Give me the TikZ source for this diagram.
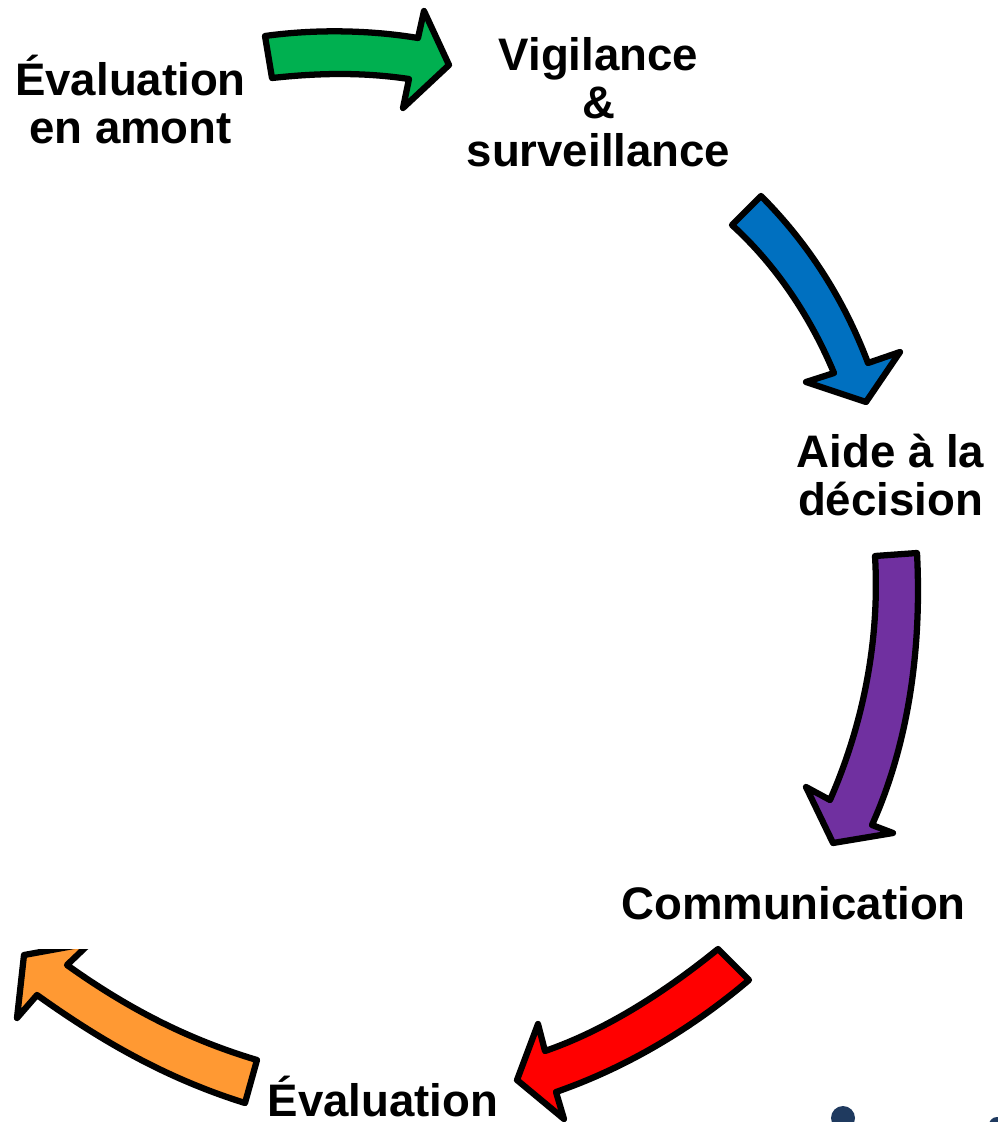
\documentclass[tikz,border=0pt]{standalone}
\usepackage{fontspec}
\setmainfont{Liberation Sans}
\tikzset{
  px/.style={x=0.75pt,y=-0.75pt},
  blockarrow/.style={draw=black,line width=4.7pt,line join=round},
  label/.style={font=\fontsize{34.2}{36}\selectfont\bfseries,align=center,inner sep=0pt,text=black},
  dot/.style={fill=dotblue,draw=none}
}
\definecolor{agreen}{HTML}{00B050}
\definecolor{ablue}{HTML}{0070C0}
\definecolor{apurple}{HTML}{7030A0}
\definecolor{ared}{HTML}{FF0000}
\definecolor{aorange}{HTML}{FF9933}
\definecolor{dotblue}{HTML}{1F3A5F}
\begin{document}
\begin{tikzpicture}[px]
\useasboundingbox (0,0) rectangle (998,1122);
\clip (0,0) rectangle (998,1122);
% green
\draw[blockarrow,fill=agreen] (265,36) .. controls (315,29) and (370,30) .. (418,38)
  -- (424,11) -- (449,65) -- (403,108) -- (409,79)
  .. controls (362,72) and (318,73) .. (272,78) -- cycle;
% blue
\draw[blockarrow,fill=ablue] (761,196) .. controls (810,245) and (845,302) .. (868,363)
  -- (900,352) -- (866,402) -- (806,382) -- (834,373)
  .. controls (811,318) and (777,266) .. (732,225) -- cycle;
% purple
\draw[blockarrow,fill=apurple] (917,553) .. controls (922,650) and (908,745) .. (872,825)
  -- (893,833) -- (833,843) -- (806,787) -- (830,800)
  .. controls (863,725) and (880,640) .. (875,556) -- cycle;
% red
\draw[blockarrow,fill=ared] (749,980) .. controls (690,1030) and (625,1068) .. (556,1092)
  -- (564,1119) -- (517,1080) -- (538,1024) -- (545,1051)
  .. controls (606,1030) and (665,992) .. (718,949) -- cycle;
% orange, cut off by the top of the image
\begin{scope}
\clip (0,949) rectangle (300,1122);
\draw[blockarrow,fill=aorange] (245,1103) .. controls (165,1078) and (100,1040) .. (37,995)
  -- (17,1018) -- (24,955) -- (90,943) -- (67,965)
  .. controls (130,1010) and (190,1040) .. (257,1060) -- cycle;
\end{scope}
% labels
\node[label] (amont) at (130.5,100) {Évaluation\\en amont};
\node[label] (vigilance) at (598.5,102) {Vigilance\\\&\\surveillance};
\node[label] (aide) at (890.5,475) {Aide à la\\décision};
\node[label] (comm) at (793.5,903) {Communication};
\node[label] (eval) at (383,1097) {Évaluation};
% stray dots at the lower edge
\fill[dot] (843,1118) circle (12);
\fill[dot] (997,1125) circle (8);
\end{tikzpicture}
\end{document}
